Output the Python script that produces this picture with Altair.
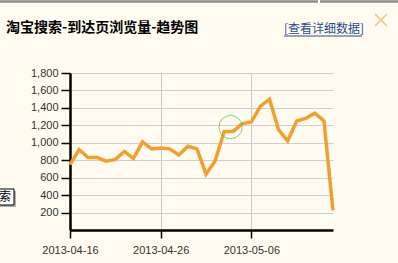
import altair as alt
import pandas as pd

# Daily landing-page views, 2013-04-16 .. 2013-05-15
dates = pd.date_range("2013-04-16", periods=30, freq="D").strftime("%Y-%m-%d").tolist()
views = [750, 920, 830, 830, 790, 810, 900, 820, 1010, 930,
         940, 930, 860, 960, 930, 640, 790, 1130, 1130, 1220,
         1240, 1420, 1500, 1150, 1020, 1250, 1280, 1340, 1250, 225]

x_tick_dates = ["2013-04-16", "2013-04-26", "2013-05-06"]
x_domain = ["2013-04-16", "2013-05-15"]
y_ticks = [200, 400, 600, 800, 1000, 1200, 1400, 1600, 1800]
y_domain = [0, 1800]

title_text = "淘宝搜索-到达页浏览量-趋势图"
link_text = "[查看详细数据]"
tab_text = "索"

# hover marker
hover_date = ["2013-05-03T17:00:00Z"]
hover_value = [1180]

LINE = "#F0A030"
BG = "#FFFBF0"


def utc_dt(s):
    y, m, d = (int(p) for p in s.split("-"))
    return alt.DateTime(year=y, month=m, date=d, utc=True)


df = pd.DataFrame({"date": dates, "views": views})
hover_df = pd.DataFrame({"date": hover_date, "views": hover_value})

x_enc = alt.X(
    "date:T",
    scale=alt.Scale(type="utc", domain=[utc_dt(s) for s in x_domain]),
    axis=alt.Axis(
        values=[utc_dt(s) for s in x_tick_dates],
        tickCount=len(x_tick_dates),
        labelExpr="utcFormat(datum.value, '%Y-%m-%d')",
        labelOverlap=False,
        labelFlush=False,
        title=None,
        grid=True,
        gridColor="#c8c8c8",
        domainColor="#000000",
        domainWidth=2.5,
        tickColor="#000000",
        tickWidth=1.5,
        tickSize=8,
        labelPadding=6,
        labelFont="Liberation Sans",
        labelFontSize=11,
        labelColor="#333333",
    ),
)
y_enc = alt.Y(
    "views:Q",
    scale=alt.Scale(domain=y_domain, nice=False, zero=True),
    axis=alt.Axis(
        values=y_ticks,
        tickCount=len(y_ticks),
        format=",d",
        labelOverlap=False,
        labelFlush=False,
        title=None,
        grid=True,
        gridColor="#cfcfcf",
        domainColor="#000000",
        domainWidth=2.5,
        tickColor="#000000",
        tickWidth=1.5,
        tickSize=9,
        labelPadding=3,
        labelFont="Liberation Sans",
        labelFontSize=11,
        labelColor="#333333",
    ),
)

line = alt.Chart(df).mark_line(color=LINE, strokeWidth=3.5).encode(x=x_enc, y=y_enc)

hover = alt.Chart(hover_df).mark_point(
    shape="circle", size=540, filled=False, color="#3CC83C", strokeWidth=1
).encode(x="date:T", y="views:Q")

one = pd.DataFrame({"t": [0]})

title = alt.Chart(pd.DataFrame({"t": [title_text]})).mark_text(
    font="Noto Sans CJK SC", fontSize=14, fontWeight="bold", color="#000000",
    align="left", baseline="middle",
).encode(x=alt.value(-64), y=alt.value(-45), text="t:N")

link = alt.Chart(pd.DataFrame({"t": [link_text]})).mark_text(
    font="Noto Sans CJK SC", fontSize=12, color="#2B4C8C",
    align="left", baseline="middle",
).encode(x=alt.value(214), y=alt.value(-44), text="t:N")

underline = alt.Chart(one).mark_rule(color="#2B4C8C", strokeWidth=1).encode(
    x=alt.value(214), x2=alt.value(292), y=alt.value(-37)
)

close_a = alt.Chart(one).mark_rule(color="#F2C27C", strokeWidth=1.5).encode(
    x=alt.value(305), x2=alt.value(317), y=alt.value(-59), y2=alt.value(-47)
)
close_b = alt.Chart(one).mark_rule(color="#F2C27C", strokeWidth=1.5).encode(
    x=alt.value(305), x2=alt.value(317), y=alt.value(-47), y2=alt.value(-59)
)

top_left = alt.Chart(one).mark_rule(color="#8C8C8C", strokeWidth=2.5).encode(
    x=alt.value(-70), x2=alt.value(248), y=alt.value(-71.5)
)
top_right = alt.Chart(one).mark_rule(color="#8C8C8C", strokeWidth=2.5).encode(
    x=alt.value(250), x2=alt.value(328), y=alt.value(-71.5)
)

tab_shadow = alt.Chart(one).mark_rect(color="#B0B0B0").encode(
    x=alt.value(-73), x2=alt.value(-54), y=alt.value(118), y2=alt.value(134)
)
tab_box = alt.Chart(one).mark_rect(fill="#FFFFFF", stroke="#000000", strokeWidth=1).encode(
    x=alt.value(-75), x2=alt.value(-56), y=alt.value(116), y2=alt.value(132)
)
tab_label = alt.Chart(pd.DataFrame({"t": [tab_text]})).mark_text(
    font="Noto Sans CJK SC", fontSize=12, color="#000000",
    align="center", baseline="middle",
).encode(x=alt.value(-65), y=alt.value(124), text="t:N")

chart = alt.layer(
    line, hover, title, link, underline, close_a, close_b,
    top_left, top_right, tab_shadow, tab_box, tab_label,
).properties(
    width=263,
    height=157,
    autosize=alt.AutoSizeParams(type="none"),
    padding={"left": 70, "top": 73, "right": 65, "bottom": 33},
    background=BG,
).configure_view(stroke=None)

chart.save("out.html", embed_options={"renderer": "svg", "actions": False})
